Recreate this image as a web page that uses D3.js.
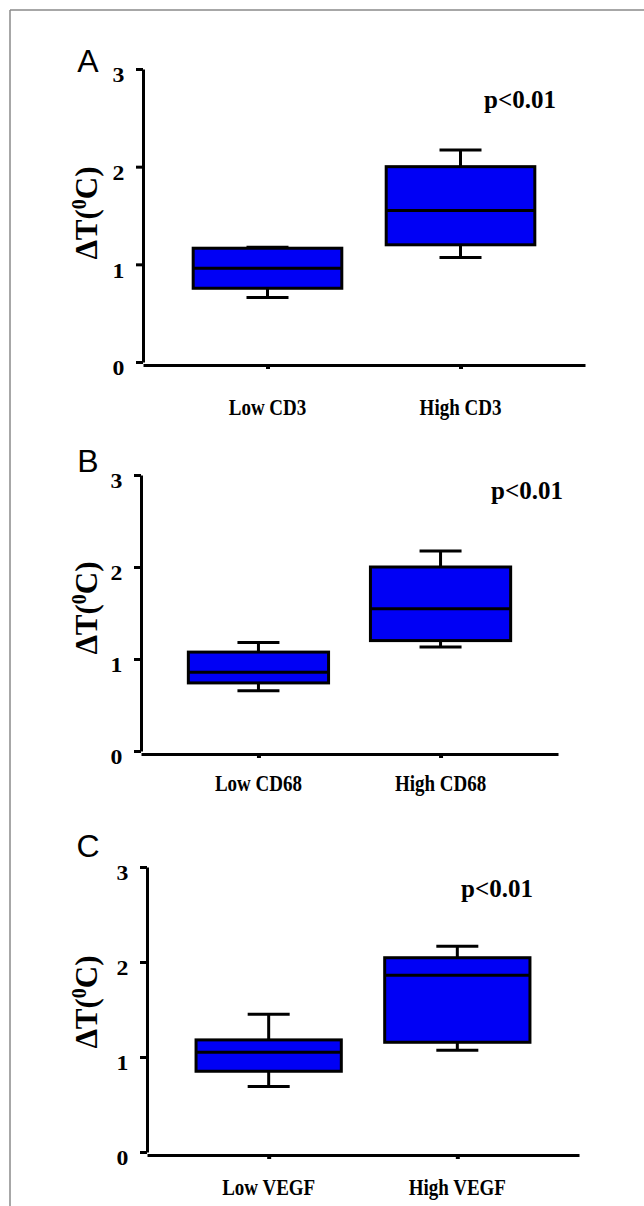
<!DOCTYPE html>
<html>
<head>
<meta charset="utf-8">
<script src="https://cdn.jsdelivr.net/npm/d3@7"></script>
<style>
  body { margin: 0; background: #fff; }
  text { font-family: "Liberation Serif", "Times New Roman", serif; font-weight: bold; }
  .panel-letter { font-family: "Liberation Sans", Arial, sans-serif; font-weight: normal; }
</style>
</head>
<body>
<div id="chart-container"></div>
<script>
// panel letters and groups
const panelLetters = ["A", "B", "C"];
const groupsA = ["Low CD3", "High CD3"];
const groupsB = ["Low CD68", "High CD68"];
const groupsC = ["Low VEGF", "High VEGF"];

// [min, q1, median, q3, max] per group
const statsA = [[0.66, 0.755, 0.96, 1.165, 1.175], [1.07, 1.2, 1.55, 2.0, 2.17]];
const statsB = [[0.655, 0.74, 0.855, 1.075, 1.18], [1.13, 1.2, 1.545, 2.0, 2.175]];
const statsC = [[0.69, 0.85, 1.05, 1.18, 1.45], [1.07, 1.155, 1.86, 2.045, 2.165]];

const yTicks = [0, 1, 2, 3];
const pLabels = ["p<0.01", "p<0.01", "p<0.01"];

const W = 644, H = 1206;

const svg = d3.select("#chart-container")
  .append("svg")
  .attr("width", W)
  .attr("height", H);

// frame lines (top and left edge)
svg.append("line").attr("x1", 10).attr("x2", W).attr("y1", 10).attr("y2", 10)
  .attr("stroke", "#8a8a8a").attr("stroke-width", 1.5);
svg.append("line").attr("x1", 10).attr("x2", 10).attr("y1", 10).attr("y2", H)
  .attr("stroke", "#8a8a8a").attr("stroke-width", 1.5);

// page layout of each panel
const layouts = [
  { left: 143, right: 585, top: 69, bottom: 362, letterY: 72, titleY: 213, catY: 415, pX: 520, pY: 108 },
  { left: 141, right: 558, top: 475, bottom: 751, letterY: 472, titleY: 608, catY: 791, pX: 527, pY: 499 },
  { left: 147, right: 579, top: 867, bottom: 1152, letterY: 857, titleY: 1002, catY: 1195, pX: 497, pY: 897 }
];

const panels = [
  { groups: groupsA, stats: statsA },
  { groups: groupsB, stats: statsB },
  { groups: groupsC, stats: statsC }
];

// text that is drawn taller than wide, as in the scanned figure
function tallText(sel, x, y, size, str, sy) {
  return sel.append("text")
    .attr("transform", `translate(${x},${y}) scale(1,${sy})`)
    .attr("text-anchor", "middle")
    .style("font-size", size + "px")
    .text(str);
}

panels.forEach((p, i) => {
  const L = layouts[i];
  const g = svg.append("g");

  const y = d3.scaleLinear().domain([0, 3]).range([L.bottom, L.top]);
  const x = d3.scalePoint().domain(p.groups).range([L.left, L.right]).padding(0.645);
  const boxW = x.step() * 0.77;
  const capW = 42;

  // y axis
  g.append("g")
    .attr("transform", `translate(${L.left},0)`)
    .call(d3.axisLeft(y).tickValues(yTicks).tickFormat(d3.format("d")).tickSizeInner(7).tickSizeOuter(0).tickPadding(12))
    .call(a => a.select(".domain").attr("stroke-width", 3))
    .call(a => a.selectAll(".tick line").attr("stroke-width", 3))
    .call(a => a.selectAll(".tick text")
      .attr("dy", "0.62em")
      .attr("transform", "scale(1.25,1.1)")
      .attr("x", -15)
      .style("font-family", "Liberation Serif, serif")
      .style("font-weight", "bold")
      .style("font-size", "19px"));

  // x axis, a few px below zero
  g.append("g")
    .attr("transform", `translate(0,${L.bottom + 3})`)
    .call(d3.axisBottom(x).tickSizeInner(4).tickSizeOuter(0).tickFormat(""))
    .call(a => a.select(".domain").attr("stroke-width", 3))
    .call(a => a.selectAll(".tick line").attr("stroke-width", 4));

  // category labels
  p.groups.forEach(d => tallText(g, x(d), L.catY, 19, d, 1.25));

  // boxes
  const box = g.selectAll(".box")
    .data(p.stats.map((s, j) => ({ key: p.groups[j], s })))
    .join("g")
    .attr("class", "box");

  box.append("line")
    .attr("x1", d => x(d.key)).attr("x2", d => x(d.key))
    .attr("y1", d => y(d.s[4])).attr("y2", d => y(d.s[3]))
    .attr("stroke", "#000").attr("stroke-width", 3);
  box.append("line")
    .attr("x1", d => x(d.key)).attr("x2", d => x(d.key))
    .attr("y1", d => y(d.s[1])).attr("y2", d => y(d.s[0]))
    .attr("stroke", "#000").attr("stroke-width", 3);
  box.append("line")
    .attr("x1", d => x(d.key) - capW / 2).attr("x2", d => x(d.key) + capW / 2)
    .attr("y1", d => y(d.s[4])).attr("y2", d => y(d.s[4]))
    .attr("stroke", "#000").attr("stroke-width", 3);
  box.append("line")
    .attr("x1", d => x(d.key) - capW / 2).attr("x2", d => x(d.key) + capW / 2)
    .attr("y1", d => y(d.s[0])).attr("y2", d => y(d.s[0]))
    .attr("stroke", "#000").attr("stroke-width", 3);
  box.append("rect")
    .attr("x", d => x(d.key) - boxW / 2)
    .attr("width", boxW)
    .attr("y", d => y(d.s[3]))
    .attr("height", d => y(d.s[1]) - y(d.s[3]))
    .attr("fill", "#0000f5")
    .attr("stroke", "#000")
    .attr("stroke-width", 3);
  box.append("line")
    .attr("x1", d => x(d.key) - boxW / 2).attr("x2", d => x(d.key) + boxW / 2)
    .attr("y1", d => y(d.s[2])).attr("y2", d => y(d.s[2]))
    .attr("stroke", "#000").attr("stroke-width", 3);

  // p value
  g.append("text")
    .attr("x", L.pX)
    .attr("y", L.pY)
    .attr("text-anchor", "middle")
    .style("font-size", "25px")
    .text(pLabels[i]);

  // y axis title
  const title = g.append("text")
    .attr("transform", `translate(97,${L.titleY}) rotate(-90)`)
    .attr("text-anchor", "middle")
    .style("font-size", "31px");
  title.append("tspan").text("\u0394T(");
  title.append("tspan").attr("baseline-shift", "super").style("font-size", "20px").text("0");
  title.append("tspan").text("C)");

  // panel letter
  g.append("text")
    .attr("class", "panel-letter")
    .attr("x", 88)
    .attr("y", L.letterY)
    .attr("text-anchor", "middle")
    .style("font-size", "32px")
    .text(panelLetters[i]);
});
</script>
</body>
</html>
